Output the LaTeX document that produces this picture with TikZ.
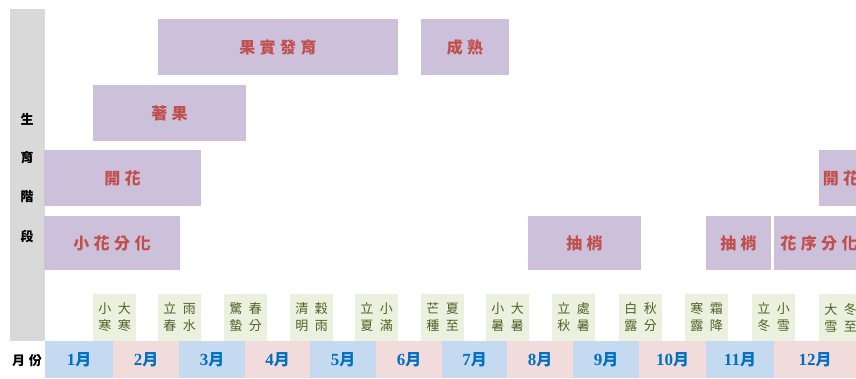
\documentclass[tikz,border=0pt]{standalone}
\usepackage{fontspec}
\setmainfont{Noto Sans CJK TC}
\newfontfamily\numfont{Liberation Serif}
\definecolor{greycol}{HTML}{D9D9D9}
\definecolor{barfill}{HTML}{CCC0DA}
\definecolor{bartext}{HTML}{C0504D}
\definecolor{termfill}{HTML}{EBF1DE}
\definecolor{termtext}{HTML}{4F6228}
\definecolor{monblue}{HTML}{C5D9F1}
\definecolor{monpink}{HTML}{F2DCDB}
\definecolor{montext}{HTML}{0070C0}
\tikzset{
  cellbase/.style={inner sep=0pt, outer sep=0pt, anchor=north west, draw=none},
  stagebar/.style={cellbase, fill=barfill, text=bartext, font=\fontsize{16}{18}\selectfont\bfseries},
  termcell/.style={cellbase, fill=termfill, text=termtext, align=center, font=\fontsize{13}{17}\selectfont, minimum width=43pt, minimum height=47pt},
  moncell/.style={cellbase, text=montext, font=\fontsize{16}{18}\selectfont\bfseries, minimum height=37pt},
  sidelabel/.style={inner sep=0pt, font=\fontsize{13}{15}\selectfont\bfseries, text=black}
}
\newcommand\sg[1]{\hspace{0.28em}#1}
\begin{document}
\begin{tikzpicture}[x=1pt,y=-1pt]
\useasboundingbox (0,0) rectangle (856,378);
\clip (0,0) rectangle (856,378);
% left grey column
\node[cellbase, fill=greycol, minimum width=35pt, minimum height=332pt] (side) at (10,9) {};
\node[sidelabel] (s1) at (27,119) {生};
\node[sidelabel] (s2) at (27,158) {育};
\node[sidelabel] (s3) at (27,197) {階};
\node[sidelabel] (s4) at (27,236) {段};
\node[sidelabel] (mlabel) at (27,361) {月\hspace{0.3em}份};
% stage bars
\node[stagebar, minimum width=240pt, minimum height=56pt] (fruitdev) at (158,19) {果\sg{實}\sg{發}\sg{育}};
\node[stagebar, minimum width=88pt, minimum height=56pt] (ripe) at (421,19) {成\sg{熟}};
\node[stagebar, minimum width=153pt, minimum height=56pt] (fruitset) at (93,85) {著\sg{果}};
\node[stagebar, minimum width=157pt, minimum height=56pt] (bloom) at (44,150) {開\sg{花}};
\node[stagebar, minimum width=44pt, minimum height=56pt] (bloomb) at (819,150) {開\sg{花}};
\node[stagebar, minimum width=136pt, minimum height=54pt] (floret) at (44,216) {小\sg{花}\sg{分}\sg{化}};
\node[stagebar, minimum width=113pt, minimum height=54pt] (shoota) at (528,216) {抽\sg{梢}};
\node[stagebar, minimum width=65pt, minimum height=54pt] (shootb) at (706,216) {抽\sg{梢}};
\node[stagebar, minimum width=90pt, minimum height=54pt] (panicle) at (774,216) {花\sg{序}\sg{分}\sg{化}};
% solar terms
\foreach \x/\a/\b/\c/\d [count=\i] in {93/小/大/寒/寒, 158/立/雨/春/水, 224/驚/春/蟄/分, 290/清/穀/明/雨, 355/立/小/夏/滿, 421/芒/夏/種/至, 486/小/大/暑/暑, 552/立/處/秋/暑, 619/白/秋/露/分, 685/寒/霜/露/降, 752/立/小/冬/雪, 819/大/冬/雪/至}
  \node[termcell] (term\i) at (\x,294) {\a\hspace{0.5em}\b\\\c\hspace{0.5em}\d};
% months
\foreach \x/\w/\col/\m [count=\i] in {45/68/monblue/1, 113/66/monpink/2, 179/66/monblue/3, 245/65/monpink/4, 310/66/monblue/5, 376/66/monpink/6, 442/65/monblue/7, 507/66/monpink/8, 573/66/monblue/9, 639/67/monpink/10, 706/68/monblue/11, 774/82/monpink/12}
  \node[moncell, fill=\col, minimum width=\w pt] (month\i) at (\x,341) {{\numfont\bfseries\fontsize{17}{18}\selectfont\m}月};
\end{tikzpicture}
\end{document}
